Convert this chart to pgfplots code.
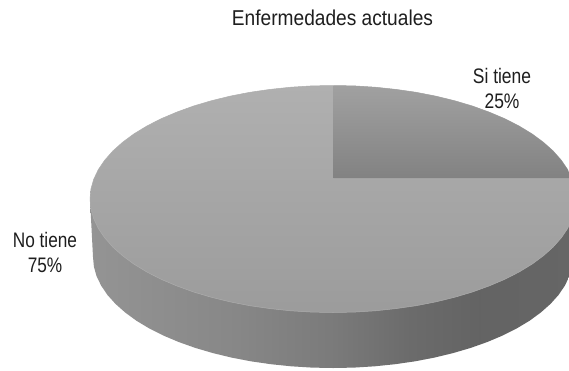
\documentclass[border=0pt]{standalone}
\usepackage{pgfplots}
\usepackage{pgfplotstable}
\usepackage{fontspec}
\setmainfont{Liberation Sans}
\pgfplotsset{compat=1.18}

\definecolor{labeltext}{HTML}{1E1E1E}

% Side wall: brightest at the left, darkest towards the right.
\pgfdeclarehorizontalshading{sidewall}{100bp}{
  color(0bp)=(black!42); color(25bp)=(black!42);
  color(40bp)=(black!47); color(50bp)=(black!52);
  color(58bp)=(black!58); color(65bp)=(black!61);
  color(75bp)=(black!60); color(100bp)=(black!60)}

% Outline of the upper face of the disc (image pixels, y downwards).
\pgfplotstableread{
x y
333 85.5
354.2 85.9
375.2 87.2
395.9 89.4
416.1 92.3
435.7 96.1
454.5 100.7
472.4 106
489.2 112.1
504.8 118.7
519.1 126
532.1 133.9
543.4 142.25
553.2 151
561.3 160.2
567.7 169.6
572.3 179.3
575.1 189.1
576 199
575.1 208.9
572.3 218.7
567.7 228.4
561.3 237.8
553.2 247
543.4 255.75
532.1 264.1
519.1 272
504.8 279.3
489.2 285.9
472.4 292
454.5 297.3
435.7 301.9
416.1 305.7
395.9 308.6
375.2 310.8
354.2 312.1
333 312.5
311.8 312.1
290.8 310.8
270.1 308.6
249.9 305.7
230.3 301.9
211.5 297.3
193.6 292
176.8 285.9
161.2 279.3
146.9 272
133.9 264.1
122.6 255.75
112.8 247
104.7 237.8
98.3 228.4
93.7 218.7
90.9 208.9
90 199
90.9 189.1
93.7 179.3
98.3 169.6
104.7 160.2
112.8 151
122.6 142.25
133.9 133.9
146.9 126
161.2 118.7
176.8 112.1
193.6 106
211.5 100.7
230.3 96.1
249.9 92.3
270.1 89.4
290.8 87.2
311.8 85.9
}\topface

% The 25% slice: centre point, upper arc, back to the centre.
\pgfplotstableread{
x y
333.5 178
333.5 85.5
354.2 85.9
375.2 87.2
395.9 89.4
416.1 92.3
435.7 96.1
454.5 100.7
472.4 106
489.2 112.1
504.8 118.7
519.1 126
532.1 133.9
543.4 142.25
553.2 151
561.3 160.2
567.7 169.6
571.8 178
}\slicesitiene

% Side wall of the disc.
\pgfplotstableread{
x y
90 199
93 257
93.9 266.7
96.6 276.3
101.2 285.7
107.5 295
115.5 303.9
125.2 312.5
136.4 320.7
149.2 328.4
163.3 335.5
178.7 342
195.3 347.9
213 353.1
231.6 357.6
250.9 361.3
270.9 364.2
291.3 366.3
312.1 367.6
333 368
353.9 367.6
374.7 366.3
395.1 364.2
415.1 361.3
434.4 357.6
453 353.1
470.7 347.9
487.3 342
502.7 335.5
516.8 328.4
529.6 320.7
540.8 312.5
550.5 303.9
558.5 295
564.8 285.7
569.4 276.3
572.1 266.7
573 257
576 199
}\sidewall

\begin{document}
\begin{tikzpicture}
\begin{axis}[
  scale only axis,
  width=569pt, height=370pt,
  xmin=0, xmax=569, ymin=0, ymax=370,
  y dir=reverse,
  hide axis,
  no markers,
]
  \addplot[draw=none, fill=white] coordinates {(0,0) (569,0) (569,370) (0,370)} -- cycle;
  \addplot[draw=none, shade, shading=sidewall] table {\sidewall} -- cycle;
  \addplot[draw=black!32, line width=0.5pt, shade, top color=black!31, bottom color=black!39] table {\topface} -- cycle;
  \addplot[draw=none, shade, top color=black!37, bottom color=black!49] table {\slicesitiene} -- cycle;

  \node[font=\fontsize{21.5}{25}\selectfont, text=labeltext, xscale=0.89, transform shape] at (axis cs:332.5,18) {Enfermedades actuales};
  \node[font=\fontsize{21}{25}\selectfont, text=labeltext, align=center, xscale=0.83, transform shape] at (axis cs:502,88) {Si tiene\\25\%};
  \node[font=\fontsize{21}{25}\selectfont, text=labeltext, align=center, xscale=0.82, transform shape] at (axis cs:45,252) {No tiene\\75\%};
\end{axis}
\end{tikzpicture}
\end{document}
